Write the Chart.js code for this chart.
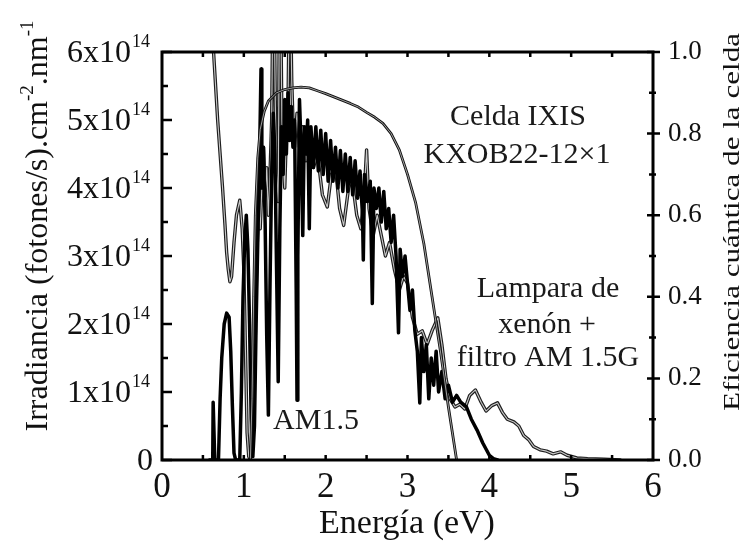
<!DOCTYPE html>
<html><head><meta charset="utf-8">
<script src="https://cdn.jsdelivr.net/npm/chart.js@4.4.0/dist/chart.umd.min.js"></script>
<style>html,body{margin:0;padding:0;background:#fff;}#wrap{width:748px;height:553px;}</style>
</head><body><div id="wrap"><canvas id="c" width="748" height="553"></canvas></div>
<script>
// ---- data ----
const am15Energy = [0.58,0.62,0.625,0.635,0.645,0.69,0.71,0.73,0.76,0.79,0.82,0.84,0.86,0.88,0.90,0.95,0.97,0.99,1.01,1.03,1.05,1.07,1.09,1.11,1.13,1.15,1.17,1.19,1.21,1.22,1.24,1.26,1.28,1.30,1.32,1.34,1.36,1.38,1.40,1.42,1.44,1.46,1.48,1.50,1.52,1.54,1.56,1.58,1.60,1.62,1.64,1.65,1.66,1.68,1.70,1.72,1.74,1.76,1.78,1.80,1.82,1.85,1.88,1.91,1.94,1.97,2.00,2.03,2.06,2.09,2.12,2.15,2.18,2.21,2.24,2.27,2.30,2.33,2.36,2.39,2.42,2.45,2.46,2.475,2.51,2.545,2.57,2.59,2.62,2.65,2.68,2.71,2.74,2.77,2.80,2.83,2.86,2.89,2.91,2.94,2.97,3.00,3.03,3.06,3.09,3.12,3.15,3.17,3.20,3.23,3.26,3.29,3.32,3.35,3.38,3.42,3.46,3.50,3.55,3.60,3.65,3.72,3.78,3.85,3.92,4.00,4.05,4.10];
const am15Irr = [0,0,0.85,0.85,0,0,0.9,1.5,2.0,2.16,2.1,1.6,0.8,0.1,0,0,1.0,2.4,3.2,3.6,3.1,2.0,0.6,0.05,0.5,2.0,3.2,4.3,5.75,4.0,4.6,3.5,1.8,0.66,2.6,4.2,5.1,4.5,2.8,1.15,3.4,4.9,4.2,5.3,4.5,5.4,4.7,5.2,4.6,5.0,2.5,0.88,3.0,5.3,4.6,3.3,4.9,4.5,5.0,3.4,4.9,4.3,4.9,4.25,4.85,4.2,4.8,4.1,4.7,4.1,4.6,4.0,4.55,3.95,4.5,3.95,4.45,3.9,4.4,3.85,4.25,3.6,2.94,4.2,3.8,4.1,2.3,4.0,3.7,4.0,3.5,3.95,3.4,3.7,3.2,3.6,3.0,1.87,3.1,2.7,3.0,2.6,2.2,2.5,1.9,1.6,0.84,1.8,1.3,1.7,0.9,1.5,1.1,1.6,1.0,1.3,0.9,1.1,0.85,0.95,0.85,0.78,0.6,0.44,0.25,0.07,0.02,0];

const lampEnergy = [0.60,0.62,0.65,0.68,0.71,0.74,0.77,0.79,0.81,0.83,0.85,0.88,0.91,0.95,0.98,1.00,1.02,1.04,1.06,1.08,1.10,1.12,1.14,1.16,1.18,1.20,1.22,1.24,1.26,1.28,1.30,1.32,1.34,1.355,1.37,1.385,1.40,1.42,1.435,1.45,1.465,1.48,1.50,1.52,1.54,1.555,1.57,1.585,1.60,1.62,1.65,1.68,1.72,1.76,1.80,1.85,1.90,1.96,2.02,2.07,2.12,2.17,2.22,2.28,2.32,2.38,2.43,2.47,2.50,2.53,2.58,2.63,2.68,2.73,2.78,2.84,2.90,2.95,3.00,3.06,3.12,3.18,3.24,3.30,3.37,3.42,3.47,3.52,3.58,3.64,3.70,3.76,3.83,3.90,3.96,4.03,4.10,4.16,4.22,4.30,4.36,4.42,4.48,4.54,4.62,4.70,4.78,4.87,4.95,5.07,5.20,5.40,5.60];
const lampIrr = [7.5,6.2,5.6,5.0,4.5,4.0,3.45,3.05,2.8,2.62,2.7,3.2,3.6,3.82,3.4,2.8,1.6,0.4,0.05,0.0,0.3,1.2,1.8,3.0,3.8,3.4,4.0,4.6,3.9,4.3,3.6,4.2,5.0,6.8,6.8,5.2,4.2,3.8,6.8,6.8,5.0,4.4,4.0,4.8,5.2,6.8,6.8,5.6,5.0,4.6,5.1,4.6,4.9,4.4,4.7,4.3,4.5,3.9,3.72,4.2,4.3,3.7,3.45,4.0,4.15,3.6,3.4,3.9,4.56,3.7,3.3,3.6,3.3,3.0,3.2,2.8,2.5,2.7,2.6,2.1,1.85,1.9,1.7,1.9,2.09,1.7,1.2,0.9,0.78,0.82,0.75,0.95,1.03,0.85,0.72,0.8,0.84,0.7,0.6,0.56,0.5,0.36,0.3,0.2,0.15,0.13,0.09,0.12,0.07,0.03,0.02,0.01,0.0];

const qeEnergy = [1.08,1.10,1.12,1.14,1.17,1.20,1.25,1.30,1.40,1.50,1.60,1.70,1.80,1.90,2.00,2.10,2.20,2.30,2.40,2.50,2.60,2.70,2.80,2.90,3.00,3.10,3.20,3.30,3.40,3.50,3.60];
const qeValues = [0,0.15,0.40,0.60,0.74,0.81,0.855,0.88,0.90,0.908,0.912,0.914,0.912,0.905,0.898,0.89,0.882,0.874,0.865,0.852,0.84,0.825,0.80,0.76,0.70,0.63,0.53,0.40,0.27,0.13,0.0];

const xTickValues = [0,1,2,3,4,5,6];
const xMinorMarks = [0.5,1,1.5,2,2.5,3,3.5,4,4.5,5,5.5];
const yLeftTickValues = [0,1,2,3,4,5,6];
const yLeftMinor = [0.5,1.5,2.5,3.5,4.5,5.5];
const yLeftMantissa = ['0','1x10','2x10','3x10','4x10','5x10','6x10'];
const yLeftExponent = ['','14','14','14','14','14','14'];
const yRightTickValues = [0,0.2,0.4,0.6,0.8,1.0];
const yRightMinor = [0.1,0.3,0.5,0.7,0.9];

const FONT = "'Liberation Serif','Times New Roman',serif";
const pts = (xs, ys) => xs.map((x, i) => ({x: x, y: ys[i]})).filter(p => p.y !== undefined);

const annotations = {
  id: 'annot',
  afterDraw(chart) {
    const ctx = chart.ctx, a = chart.chartArea;
    const xs = chart.scales.x, yl = chart.scales.y, yr = chart.scales.y1;
    ctx.save();
    ctx.strokeStyle = '#000';
    ctx.fillStyle = '#111';
    // frame
    ctx.lineWidth = 3;
    ctx.strokeRect(a.left, a.top, a.right - a.left, a.bottom - a.top);
    // ticks
    ctx.lineWidth = 2.5;
    ctx.beginPath();
    xMinorMarks.forEach(v => {
      const px = xs.getPixelForValue(v);
      ctx.moveTo(px, a.bottom); ctx.lineTo(px, a.bottom - 5);
      ctx.moveTo(px, a.top); ctx.lineTo(px, a.top + 5);
    });
    yLeftTickValues.forEach(v => {
      const py = yl.getPixelForValue(v);
      ctx.moveTo(a.left, py); ctx.lineTo(a.left + 10, py);
    });
    yLeftMinor.forEach(v => {
      const py = yl.getPixelForValue(v);
      ctx.moveTo(a.left, py); ctx.lineTo(a.left + 6, py);
    });
    yRightTickValues.forEach(v => {
      const py = yr.getPixelForValue(v);
      ctx.moveTo(a.right - 6, py); ctx.lineTo(a.right + 7, py);
    });
    yRightMinor.forEach(v => {
      const py = yr.getPixelForValue(v);
      ctx.moveTo(a.right - 4, py); ctx.lineTo(a.right + 3, py);
    });
    ctx.stroke();

    // left tick labels with superscripts
    yLeftTickValues.forEach((v, i) => {
      const py = yl.getPixelForValue(v);
      const rightEdge = 149;
      ctx.font = '18px ' + FONT;
      const supW = yLeftExponent[i] ? ctx.measureText(yLeftExponent[i]).width : 0;
      ctx.font = '32px ' + FONT;
      ctx.textAlign = 'right';
      ctx.textBaseline = 'alphabetic';
      const baseRight = rightEdge - supW;
      ctx.fillText(yLeftMantissa[i], yLeftExponent[i] ? baseRight : 153, py + 10);
      if (yLeftExponent[i]) {
        ctx.font = '18px ' + FONT;
        ctx.textAlign = 'left';
        ctx.fillText(yLeftExponent[i], baseRight + 1, py - 5);
      }
    });

    // left axis title (rotated, with superscripts)
    const parts = [
      {t: 'Irradiancia (fotones/s).cm', sup: false},
      {t: '-2', sup: true},
      {t: '.nm', sup: false},
      {t: '-1', sup: true}
    ];
    ctx.save();
    ctx.translate(47, 226);
    ctx.rotate(-Math.PI / 2);
    let total = 0;
    parts.forEach(p => { ctx.font = (p.sup ? '19px ' : '32px ') + FONT; p.w = ctx.measureText(p.t).width; total += p.w; });
    let cx = -total / 2;
    ctx.textAlign = 'left';
    parts.forEach(p => {
      ctx.font = (p.sup ? '19px ' : '32px ') + FONT;
      ctx.fillText(p.t, cx, p.sup ? -14 : 0);
      cx += p.w;
    });
    ctx.restore();

    // right axis title (rotated, stretched along the text)
    ctx.save();
    ctx.translate(739, 222);
    ctx.rotate(-Math.PI / 2);
    ctx.font = '24px ' + FONT;
    const rt = 'Eficiencia cuántica de la celda';
    const rw = ctx.measureText(rt).width;
    ctx.scale(378 / rw, 1);
    ctx.textAlign = 'center';
    ctx.fillText(rt, 0, 0);
    ctx.restore();

    // x axis title
    ctx.font = '34px ' + FONT;
    ctx.textAlign = 'center';
    ctx.fillText('Energía (eV)', 407, 533);

    // curve labels
    ctx.font = '30px ' + FONT;
    ctx.fillStyle = '#1a1a1a';
    ctx.fillText('Celda IXIS', 518, 125);
    ctx.fillText('KXOB22-12×1', 517, 163);
    ctx.fillText('Lampara de', 548, 297);
    ctx.fillText('xenón +', 547, 333);
    ctx.fillText('filtro AM 1.5G', 548, 366);
    ctx.fillText('AM1.5', 316, 429);
    ctx.restore();
  }
};

new Chart(document.getElementById('c'), {
  type: 'line',
  data: {
    datasets: [
      {label: 'QE core', data: pts(qeEnergy, qeValues), yAxisID: 'y1', borderColor: '#c4c4c4', borderWidth: 0.8, order: 0},
      {label: 'Celda IXIS KXOB22-12x1', data: pts(qeEnergy, qeValues), yAxisID: 'y1', borderColor: '#111', borderWidth: 2.8, order: 1},
      {label: 'AM1.5', data: pts(am15Energy, am15Irr), yAxisID: 'y', borderColor: '#000', borderWidth: 3.5, order: 2},
      {label: 'Lamp core', data: pts(lampEnergy, lampIrr), yAxisID: 'y', borderColor: '#c8c8c8', borderWidth: 1.1, order: 3},
      {label: 'Lampara de xenón + filtro AM 1.5G', data: pts(lampEnergy, lampIrr), yAxisID: 'y', borderColor: '#1e1e1e', borderWidth: 3.4, order: 4}
    ]
  },
  options: {
    responsive: false,
    animation: false,
    devicePixelRatio: 1,
    parsing: false,
    layout: {padding: {top: 52, left: 0, right: 0, bottom: 0}},
    elements: {point: {radius: 0}, line: {tension: 0, borderJoinStyle: 'round', borderCapStyle: 'round'}},
    plugins: {legend: {display: false}, tooltip: {enabled: false}, title: {display: false}},
    scales: {
      x: {
        type: 'linear', position: 'bottom', min: 0, max: 6,
        afterBuildTicks: s => { s.ticks = xTickValues.map(v => ({value: v})); },
        grid: {display: false, drawTicks: false}, border: {display: false},
        ticks: {font: {family: FONT, size: 35}, color: '#111', padding: 7, maxRotation: 0, autoSkip: false, callback: v => String(v)},
        afterFit: s => { s.height = 93; }
      },
      y: {
        type: 'linear', position: 'left', min: 0, max: 6,
        grid: {display: false, drawTicks: false}, border: {display: false},
        ticks: {display: false},
        afterFit: s => { s.width = 162; }
      },
      y1: {
        type: 'linear', position: 'right', min: 0, max: 1,
        afterBuildTicks: s => { s.ticks = yRightTickValues.map(v => ({value: v})); },
        grid: {display: false, drawTicks: false}, border: {display: false},
        ticks: {font: {family: FONT, size: 27}, color: '#111', padding: 15, autoSkip: false, callback: v => Number(v).toFixed(1)},
        afterFit: s => { s.width = 95; }
      }
    }
  },
  plugins: [annotations]
});
</script>
</body></html>
